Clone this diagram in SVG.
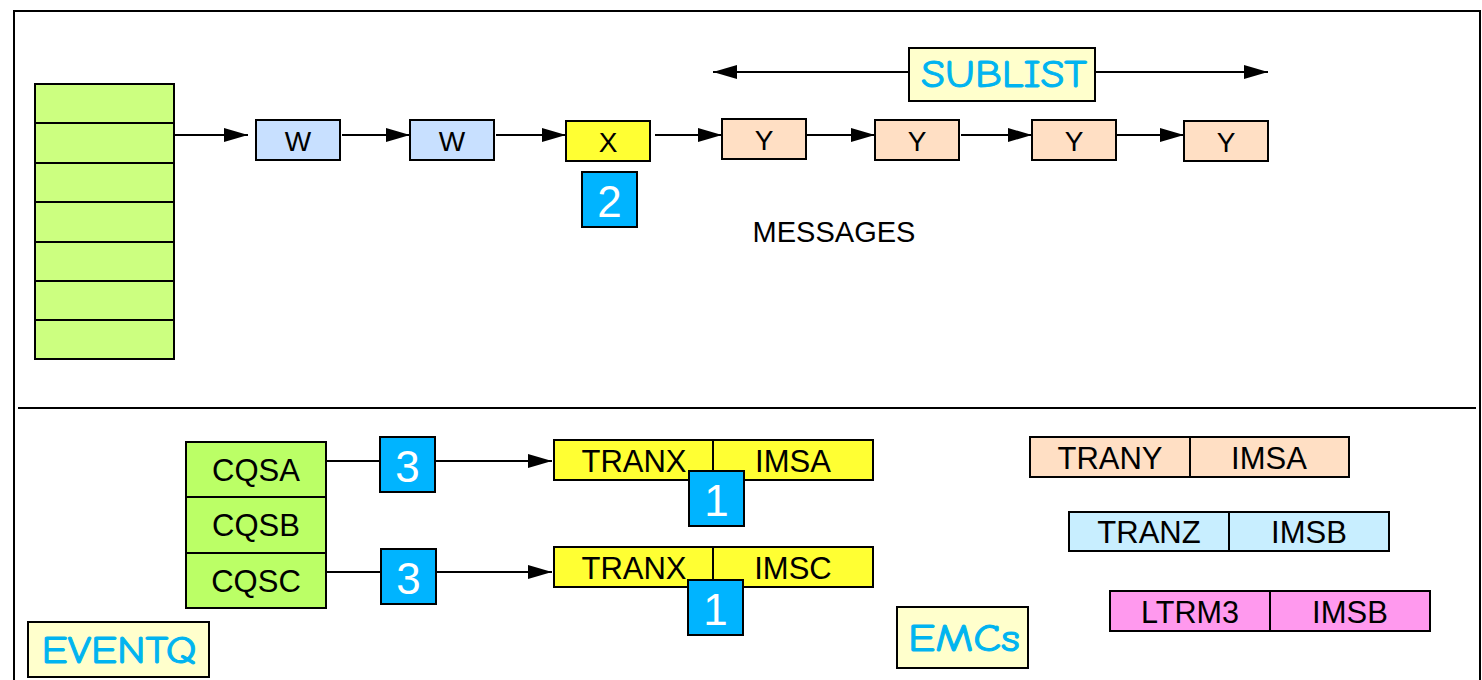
<svg xmlns="http://www.w3.org/2000/svg" width="1482" height="680" viewBox="0 0 1482 680">
<defs>
<marker id="ah" markerUnits="userSpaceOnUse" markerWidth="24" markerHeight="14" refX="24" refY="7" orient="auto-start-reverse">
<path d="M0,0 L24,7 L0,14 Z" fill="#000"/>
</marker>
<style>
.b{stroke:#000;stroke-width:2}
.ln{stroke:#000;stroke-width:2;fill:none}
.t{font-family:"Liberation Sans",Arial,sans-serif;fill:#000;text-anchor:middle;dominant-baseline:central}
.s{font-size:28px}
.m{font-size:31px}
.n{font-family:"Liberation Sans",Arial,sans-serif;font-size:44px;fill:#fff;text-anchor:middle;dominant-baseline:central}
.c{font-family:"Comic Sans MS","Comic Neue","DejaVu Sans",sans-serif;fill:#00B4F0;stroke:#00B4F0;stroke-width:1;text-anchor:middle;dominant-baseline:central;font-size:38px}
.g1{fill:#CCFF80}
.g2{fill:#BBFF66}
.wb{fill:#C8E0FF}
.yl{fill:#FFFF33}
.pc{fill:#FFDFC4}
.bd{fill:#00B4FF}
.cr{fill:#FFFFCC}
.lc{fill:#C8EEFF}
.pk{fill:#FF99EE}
</style>
</defs>
<rect width="1482" height="680" fill="#fff"/>
<path class="ln" d="M14,680 V11 H1480 V680" stroke-width="2.5"/>
<line class="ln" x1="18" y1="408" x2="1476" y2="408"/>

<g id="connectors">
<line class="ln" x1="174" y1="135" x2="248" y2="135" marker-end="url(#ah)"/>
<line class="ln" x1="342" y1="135" x2="410" y2="135" marker-end="url(#ah)"/>
<line class="ln" x1="496" y1="135" x2="566" y2="135" marker-end="url(#ah)"/>
<line class="ln" x1="655" y1="135" x2="722" y2="135" marker-end="url(#ah)"/>
<line class="ln" x1="807" y1="135" x2="875" y2="135" marker-end="url(#ah)"/>
<line class="ln" x1="961" y1="135" x2="1032" y2="135" marker-end="url(#ah)"/>
<line class="ln" x1="1117" y1="135" x2="1184" y2="135" marker-end="url(#ah)"/>
<line class="ln" x1="909" y1="72" x2="713" y2="72" marker-end="url(#ah)"/>
<line class="ln" x1="1095" y1="72" x2="1268" y2="72" marker-end="url(#ah)"/>
<line class="ln" x1="326" y1="461" x2="380" y2="461"/>
<line class="ln" x1="435" y1="461" x2="552" y2="461" marker-end="url(#ah)"/>
<line class="ln" x1="326" y1="572" x2="381" y2="572"/>
<line class="ln" x1="436" y1="572" x2="552" y2="572" marker-end="url(#ah)"/>
</g>

<g id="queue">
<rect class="b g1" x="35" y="84" width="139" height="275"/>
<line class="ln" x1="35" y1="123" x2="174" y2="123"/>
<line class="ln" x1="35" y1="163" x2="174" y2="163"/>
<line class="ln" x1="35" y1="202" x2="174" y2="202"/>
<line class="ln" x1="35" y1="242" x2="174" y2="242"/>
<line class="ln" x1="35" y1="281" x2="174" y2="281"/>
<line class="ln" x1="35" y1="320" x2="174" y2="320"/>
</g>

<g id="w1"><rect class="b wb" x="256" y="120" width="84" height="40"/><text class="t s" x="298" y="141">W</text></g>
<g id="w2"><rect class="b wb" x="410" y="120" width="84" height="40"/><text class="t s" x="452" y="141">W</text></g>
<g id="x1"><rect class="b yl" x="566" y="121" width="84" height="40"/><text class="t s" x="608" y="142">X</text></g>
<g id="y1"><rect class="b pc" x="722" y="119" width="84" height="40"/><text class="t s" x="764" y="140">Y</text></g>
<g id="y2"><rect class="b pc" x="875" y="120" width="84" height="40"/><text class="t s" x="917" y="141">Y</text></g>
<g id="y3"><rect class="b pc" x="1032" y="120" width="84" height="40"/><text class="t s" x="1074" y="141">Y</text></g>
<g id="y4"><rect class="b pc" x="1184" y="121" width="84" height="40"/><text class="t s" x="1226" y="142">Y</text></g>

<g id="sublist"><rect class="b cr" x="909" y="48" width="186" height="53"/><text class="c" x="1004" y="75" textLength="166" lengthAdjust="spacingAndGlyphs">SUBLIST</text></g>
<g id="badge2"><rect class="b bd" x="582" y="172" width="55" height="55"/><text class="n" x="609.5" y="201">2</text></g>
<g id="messages"><text class="t" x="834" y="232" font-size="29">MESSAGES</text></g>

<g id="cqs">
<rect class="b g2" x="186" y="442" width="140" height="166"/>
<line class="ln" x1="186" y1="497" x2="326" y2="497"/>
<line class="ln" x1="186" y1="553" x2="326" y2="553"/>
<text class="t m" x="256" y="470">CQSA</text>
<text class="t m" x="256" y="525">CQSB</text>
<text class="t m" x="256" y="581">CQSC</text>
</g>
<g id="badge3a"><rect class="b bd" x="380" y="437" width="55" height="55"/><text class="n" x="407.5" y="466">3</text></g>
<g id="badge3b"><rect class="b bd" x="381" y="549" width="55" height="55"/><text class="n" x="408.5" y="578">3</text></g>

<g id="tranx-imsa">
<rect class="b yl" x="554" y="440" width="319" height="40"/>
<line class="ln" x1="713" y1="440" x2="713" y2="480"/>
<text class="t m" x="634" y="461">TRANX</text>
<text class="t m" x="793" y="461">IMSA</text>
</g>
<g id="badge1a"><rect class="b bd" x="689" y="471" width="55" height="55"/><text class="n" x="716.5" y="500">1</text></g>
<g id="tranx-imsc">
<rect class="b yl" x="554" y="547" width="319" height="40"/>
<line class="ln" x1="713" y1="547" x2="713" y2="587"/>
<text class="t m" x="634" y="568">TRANX</text>
<text class="t m" x="793" y="568">IMSC</text>
</g>
<g id="badge1b"><rect class="b bd" x="688" y="580" width="55" height="55"/><text class="n" x="715.5" y="609">1</text></g>

<g id="trany"><rect class="b pc" x="1030" y="437" width="319" height="40"/><line class="ln" x1="1190" y1="437" x2="1190" y2="477"/><text class="t m" x="1110" y="458">TRANY</text><text class="t m" x="1269" y="458">IMSA</text></g>
<g id="tranz"><rect class="b lc" x="1069" y="512" width="320" height="39"/><line class="ln" x1="1229" y1="512" x2="1229" y2="551"/><text class="t m" x="1149" y="532">TRANZ</text><text class="t m" x="1309" y="532">IMSB</text></g>
<g id="ltrm3"><rect class="b pk" x="1110" y="591" width="320" height="40"/><line class="ln" x1="1270" y1="591" x2="1270" y2="631"/><text class="t m" x="1190" y="612" textLength="98" lengthAdjust="spacingAndGlyphs">LTRM3</text><text class="t m" x="1350" y="612">IMSB</text></g>

<g id="eventq"><rect class="b cr" x="28" y="622" width="181" height="55"/><text class="c" x="119" y="651" textLength="155" lengthAdjust="spacingAndGlyphs">EVENTQ</text></g>
<g id="emcs"><rect class="b cr" x="897" y="607" width="131" height="61"/><text class="c" x="964" y="639" font-size="44" textLength="112" lengthAdjust="spacingAndGlyphs">EMCs</text></g>
</svg>
